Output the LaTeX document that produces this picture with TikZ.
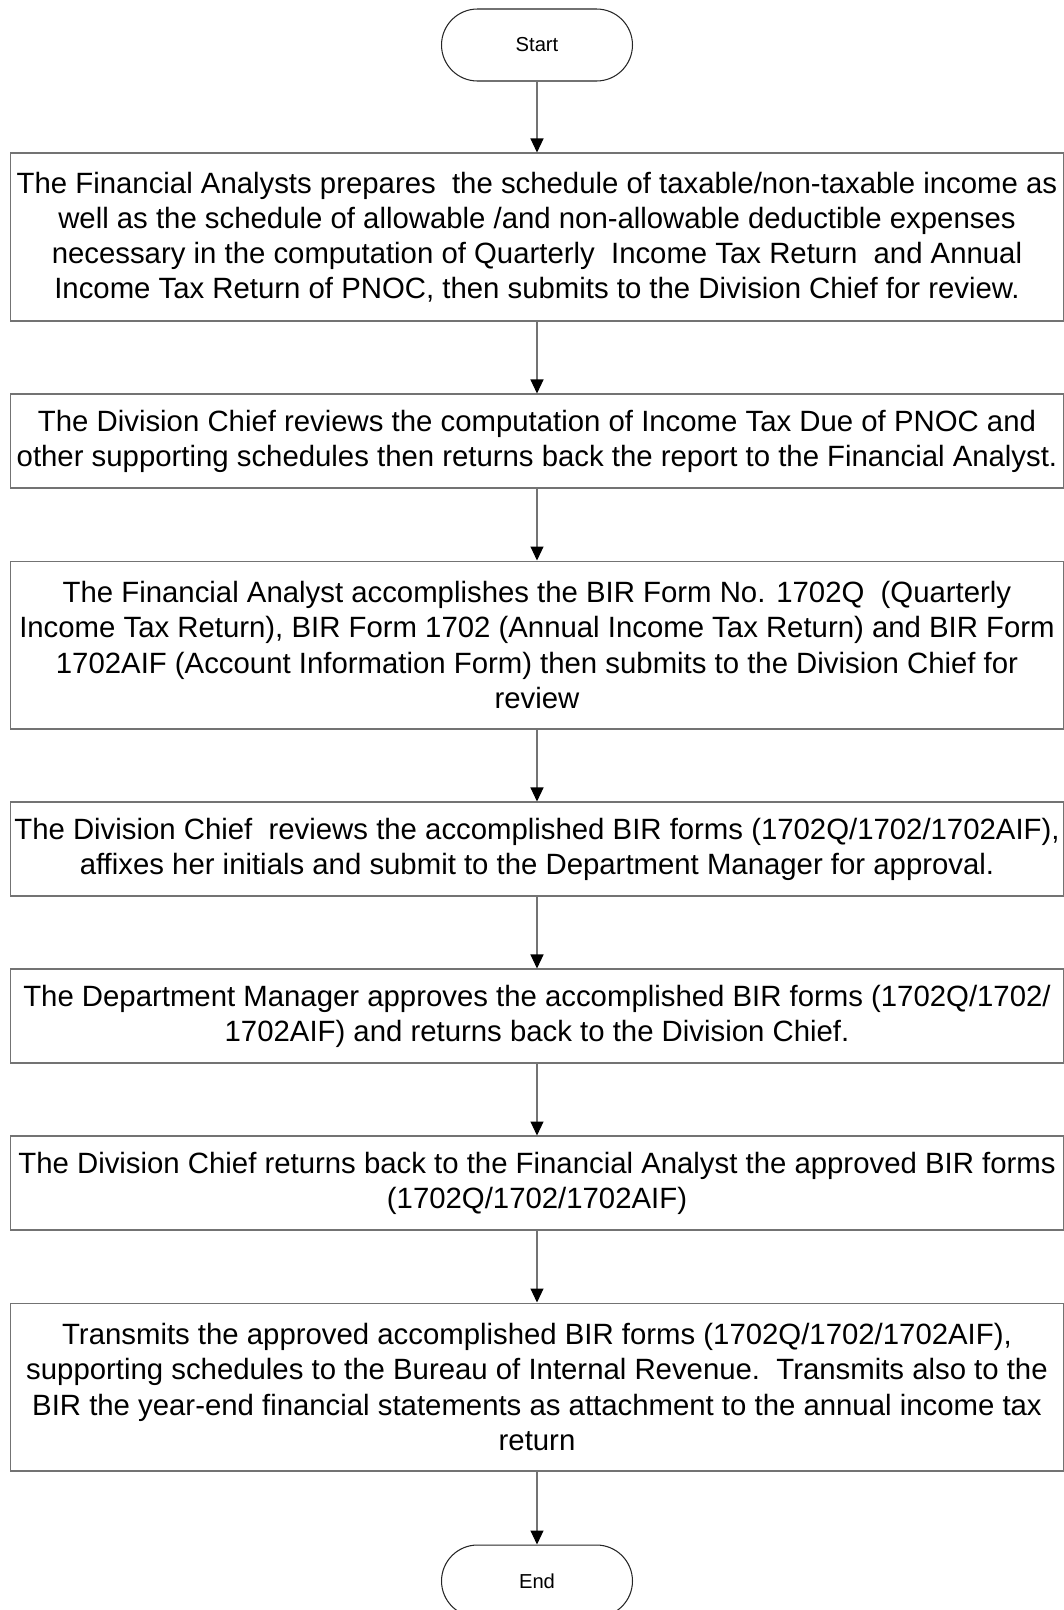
\documentclass[tikz,border=0pt]{standalone}
\usepackage{fontspec}
\setmainfont{Liberation Sans}
\usetikzlibrary{arrows.meta}

\begin{document}
\begin{tikzpicture}[x=0.02cm, y=-0.02cm,
    stepbox/.style={draw=black!55, line width=0.6pt, align=center, inner sep=0pt,
      minimum width=21.08cm, font=\fontsize{16.7}{20}\selectfont},
    terminal/.style={draw=black!85, line width=0.6pt, rounded corners=0.72cm,
      minimum width=3.82cm, minimum height=1.44cm, font=\fontsize{11.5}{14}\selectfont},
    flow/.style={draw=black!55, line width=0.6pt, -{Triangle[width=0.26cm, length=0.28cm, black]}}]
      % Frame
      \useasboundingbox (0,0) rectangle (1063,1610);

      % Terminals
      \node[terminal] (start) at (537,45) {Start};
      \node[terminal] (end) at (537,1581) {End};

      % Steps
      \node[stepbox, minimum height=3.36cm] (prepare) at (537,237) {The Financial Analysts prepares\ \ the schedule of taxable/non-taxable income as\\
        well as the schedule of allowable /and non-allowable deductible expenses\\
        necessary in the computation of Quarterly\ \ Income Tax Return\ \ and Annual\\
        Income Tax Return of PNOC, then submits to the Division Chief for review.};
      \node[stepbox, minimum height=1.88cm] (review) at (537,441) {The Division Chief reviews the computation of Income Tax Due of PNOC and\\
        other supporting schedules then returns back the report to the Financial Analyst.};
      \node[stepbox, minimum height=3.36cm] (accomplish) at (537,645) {The Financial Analyst accomplishes the BIR Form No. 1702Q\ \ (Quarterly\\
        Income Tax Return), BIR Form 1702 (Annual Income Tax Return) and BIR Form\\
        1702AIF (Account Information Form) then submits to the Division Chief for\\
        review};
      \node[stepbox, minimum height=1.88cm] (initial) at (537,849) {The Division Chief\ \ reviews the accomplished BIR forms (1702Q/1702/1702AIF),\\
        affixes her initials and submit to the Department Manager for approval.};
      \node[stepbox, minimum height=1.88cm] (approve) at (537,1016) {The Department Manager approves the accomplished BIR forms (1702Q/1702/\\
        1702AIF) and returns back to the Division Chief.};
      \node[stepbox, minimum height=1.88cm] (giveback) at (537,1183) {The Division Chief returns back to the Financial Analyst the approved BIR forms\\
        (1702Q/1702/1702AIF)};
      \node[stepbox, minimum height=3.36cm] (transmit) at (537,1387) {Transmits the approved accomplished BIR forms (1702Q/1702/1702AIF),\\
        supporting schedules to the Bureau of Internal Revenue.\ \ Transmits also to the\\
        BIR the year-end financial statements as attachment to the annual income tax\\
        return};

      % Arrows
      \draw[flow] (start) -- (prepare);
      \draw[flow] (prepare) -- (review);
      \draw[flow] (review) -- (accomplish);
      \draw[flow] (accomplish) -- (initial);
      \draw[flow] (initial) -- (approve);
      \draw[flow] (approve) -- (giveback);
      \draw[flow] (giveback) -- (transmit);
      \draw[flow] (transmit) -- (end);
    \end{tikzpicture}
\end{document}
